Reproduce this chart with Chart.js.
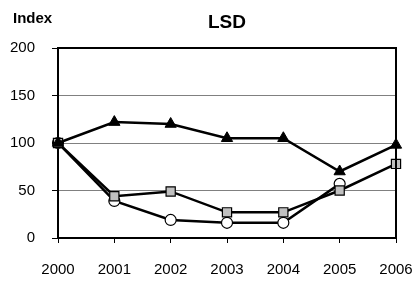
<!DOCTYPE html>
<html><head><meta charset="utf-8">
<script src="https://cdn.jsdelivr.net/npm/chart.js@4/dist/chart.umd.min.js"></script>
<style>html,body{margin:0;padding:0;background:#fff}#wrap{width:414px;height:282px;position:relative}</style>
</head><body><div id="wrap"><canvas id="c" width="414" height="282"></canvas></div>
<script>
const categories = ["2000","2001","2002","2003","2004","2005","2006"];
const triangleSeries = [100, 122, 120, 105, 105, 70, 98];
const squareSeries = [100, 44, 49, 27, 27, 50, 78];
const circleSeries = [100, 39, 19, 16, 16, 57, null];
const yTicks = [0, 50, 100, 150, 200];
const titleText = "LSD";
const axisLabel = "Index";

const frame = {
  id: 'frame',
  afterDraw(chart) {
    const a = chart.chartArea, ctx = chart.ctx;
    ctx.save();
    ctx.strokeStyle = '#000'; ctx.lineWidth = 2;
    ctx.beginPath();
    ctx.moveTo(a.left, a.top); ctx.lineTo(a.right, a.top); ctx.lineTo(a.right, a.bottom);
    ctx.stroke();
    ctx.fillStyle = '#000'; ctx.textBaseline = 'alphabetic';
    ctx.font = 'bold 15px "Liberation Sans", Arial, sans-serif';
    ctx.textAlign = 'left';
    ctx.fillText(axisLabel, 13, 23);
    ctx.font = 'bold 19px "Liberation Sans", Arial, sans-serif';
    ctx.textAlign = 'center';
    ctx.fillText(titleText, (a.left + a.right) / 2, 28);
    ctx.restore();
  }
};
const font = {family: '"Liberation Sans", Arial, sans-serif', size: 15};
new Chart(document.getElementById('c'), {
  type: 'line',
  data: {
    labels: categories,
    datasets: [
      {data: triangleSeries, order: 0, borderColor:'#000', borderWidth:2.5, pointStyle:'triangle', pointRadius:6.5, pointBackgroundColor:'#000', pointBorderColor:'#000', pointBorderWidth:1, tension:0},
      {data: squareSeries, order: 1, borderColor:'#000', borderWidth:2.5, pointStyle:'rect', pointRadius:6.5, pointBackgroundColor:'#c0c0c0', pointBorderColor:'#000', pointBorderWidth:1.2, tension:0},
      {data: circleSeries, order: 2, borderColor:'#000', borderWidth:2.5, pointStyle:'circle', pointRadius:5.5, pointBackgroundColor:'#fff', pointBorderColor:'#000', pointBorderWidth:1.2, tension:0}
    ]
  },
  options: {
    responsive:false, animation:false, devicePixelRatio:1,
    layout:{padding:{left:0,right:0,top:48,bottom:0}},
    plugins:{ legend:{display:false}, tooltip:{enabled:false}, title:{display:false} },
    scales:{
      x:{
        offset:false,
        grid:{display:true, drawOnChartArea:false, drawTicks:true, tickLength:5, color:'#000', lineWidth:1},
        border:{display:true, color:'#000', width:2},
        ticks:{color:'#000', font:font, padding:18, maxRotation:0, autoSkip:false},
        afterFit(s){ s.height = 44; s.paddingRight = 18; s.paddingLeft = 0; }
      },
      y:{
        min:0, max:200,
        afterBuildTicks(s){ s.ticks = yTicks.map(v=>({value:v})); },
        grid:{color:'#808080', lineWidth:1, drawTicks:true, tickLength:6, tickColor:'#000'},
        border:{display:true, color:'#000', width:2},
        ticks:{color:'#000', font:font, padding:17},
        afterFit(s){ s.width = 58; }
      }
    }
  },
  plugins:[frame]
});
</script></body></html>
